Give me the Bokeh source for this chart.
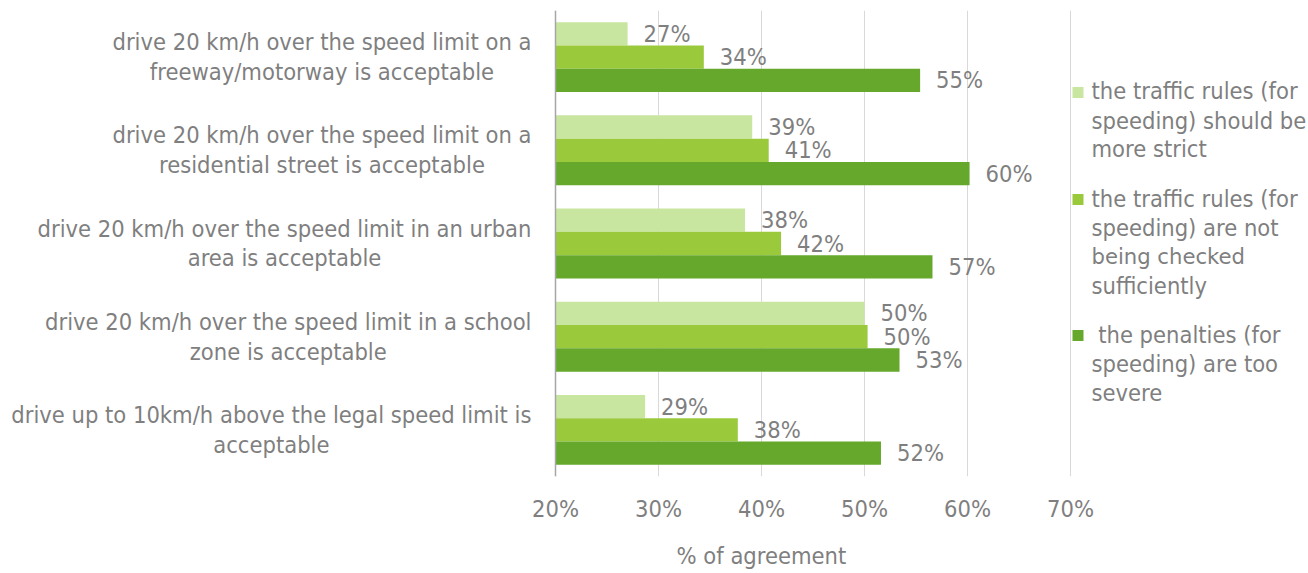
from bokeh.plotting import figure
from bokeh.models import (FactorRange, Range1d, FixedTicker, Span, Title, ColumnDataSource)
from bokeh.transform import dodge
from bokeh.core.properties import value
from bokeh.embed import file_html
from bokeh.resources import INLINE

FONT = "DejaVu Sans Condensed"
GRAY = "#7F7F7F"
FSZ = 23.5
FS = f"{FSZ}px"

# ---------------- data ----------------
categories = [
    "drive 20 km/h over the speed limit on a\nfreeway/motorway is acceptable",
    "drive 20 km/h over the speed limit on a\nresidential street is acceptable",
    "drive 20 km/h over the speed limit in an urban\narea is acceptable",
    "drive 20 km/h over the speed limit in a school\nzone is acceptable",
    "drive up to 10km/h above the legal speed limit is\nacceptable",
]
series_names = [
    "the traffic rules (for\nspeeding) should be\nmore strict",
    "the traffic rules (for\nspeeding) are not\nbeing checked\nsufficiently",
    " the penalties (for\nspeeding) are too\nsevere",
]
rules_stricter = [27.0, 39.1, 38.4, 50.0, 28.7]
not_checked = [34.4, 40.7, 41.9, 50.3, 37.7]
too_severe = [55.4, 60.2, 56.6, 53.4, 51.6]
colors = ["#C9E6A0", "#9ACA3C", "#65A82B"]
tick_values = [20, 30, 40, 50, 60, 70]
tick_labels = ["20%", "30%", "40%", "50%", "60%", "70%"]
axis_title = "% of agreement"

# ---------------- layout constants (pixels) ----------------
W, H = 1308, 573
FRAME_TOP, FRAME_BOTTOM = 10, 476
AX_LEFT_PX, AX_RIGHT_PX = 555, 1070       # where 20% and 70% sit
XMIN, XMAX = tick_values[0], tick_values[-1]
PXX = (AX_RIGHT_PX - AX_LEFT_PX) / (XMAX - XMIN)
X0 = XMIN - AX_LEFT_PX / PXX
X1 = X0 + W / PXX
NCAT = len(categories)
PXY = (FRAME_BOTTOM - FRAME_TOP) / NCAT


def px_x(px):
    return X0 + px / PXX


def px_y(py):
    return NCAT - (py - FRAME_TOP) / PXY


def text_width(s):
    try:
        from PIL import ImageFont
        f = ImageFont.truetype("DejaVuSansCondensed.ttf", FSZ)
        return f.getlength(s)
    except Exception:
        return len(s) * 0.5 * FSZ


series = [rules_stricter, not_checked, too_severe]
data = dict(cat=categories)
for i, s in enumerate(series):
    data[f"v{i}"] = s
    data[f"t{i}"] = [f"{v:.0f}%" for v in s]
source = ColumnDataSource(data)

p = figure(y_range=FactorRange(factors=categories[::-1], range_padding=0),
           x_range=Range1d(X0, X1),
           frame_width=W, frame_height=FRAME_BOTTOM - FRAME_TOP,
           min_border_left=0, min_border_right=0, min_border_top=FRAME_TOP,
           min_border_bottom=H - FRAME_BOTTOM, y_axis_location=None,
           output_backend="svg", toolbar_location=None)
p.outline_line_color = None
p.background_fill_color = "white"
p.border_fill_color = "white"

# gridlines & category axis line
xa = p.xaxis[0]
xa.ticker = FixedTicker(ticks=tick_values)
xa.major_label_overrides = {v: l for v, l in zip(tick_values, tick_labels)}
xa.axis_line_color = None
xa.major_tick_line_color = None
xa.minor_tick_line_color = None
xa.major_label_standoff = 12
xa.major_label_text_font = FONT
xa.major_label_text_font_size = FS
xa.major_label_text_color = GRAY
p.xgrid.grid_line_color = "#D9D9D9"
p.xgrid.grid_line_width = 1
p.ygrid.grid_line_color = None
p.add_layout(Span(location=XMIN, dimension="height", line_color="#A6A6A6", line_width=1.5))

# bars + value labels
offsets = [0.25, 0.0, -0.25]
for i in range(3):
    yv = dodge("cat", offsets[i], range=p.y_range)
    p.hbar(y=yv, left=XMIN, right=f"v{i}", height=0.25, source=source,
           fill_color=colors[i], line_color=None)
    p.text(x=f"v{i}", y=yv, text=f"t{i}", source=source, x_offset=16,
           text_baseline="middle", text_align="left", text_font=value(FONT),
           text_font_size=FS, text_color=GRAY)

# category labels (each block right-aligned to the axis, lines centred)
LABEL_RIGHT_PX = 531
centers = []
for c in categories:
    wmax = max(text_width(line) for line in c.split("\n"))
    centers.append(px_x(LABEL_RIGHT_PX - wmax / 2))
p.text(x=centers, y=categories, text=categories, text_align="center",
       text_baseline="middle", text_font=value(FONT), text_font_size=FS,
       text_color=GRAY, text_line_height=1.06)

# legend (drawn manually so that the swatch aligns with the first line)
LEG_FIRST, LEG_LINE, LEG_GAP = 91, 29, 20
SW_X, TXT_X = 1077.5, 1091
ly = LEG_FIRST
lx, lyy, ltxt = [], [], []
for i, name in enumerate(series_names):
    lines = name.split("\n")
    p.scatter(x=[px_x(SW_X)], y=[px_y(ly + 1)], marker="square", size=11,
              fill_color=colors[i], line_color=None)
    for k, line in enumerate(lines):
        lx.append(px_x(TXT_X))
        lyy.append(px_y(ly + k * LEG_LINE))
        # keep a leading space visible (SVG would collapse a plain one)
        ltxt.append(line.replace(" ", "\u00a0", 1) if line.startswith(" ") else line)
    ly += len(lines) * LEG_LINE + LEG_GAP
p.text(x=lx, y=lyy, text=ltxt, text_align="left", text_baseline="middle",
       text_font=value(FONT), text_font_size=FS, text_color=GRAY)

title = Title(text=axis_title, align="left", offset=676, text_font=FONT,
              text_font_size=FS, text_color=GRAY, text_font_style="normal",
              standoff=29)
p.add_layout(title, "below")

open("out.html", "w").write(file_html(p, INLINE))
